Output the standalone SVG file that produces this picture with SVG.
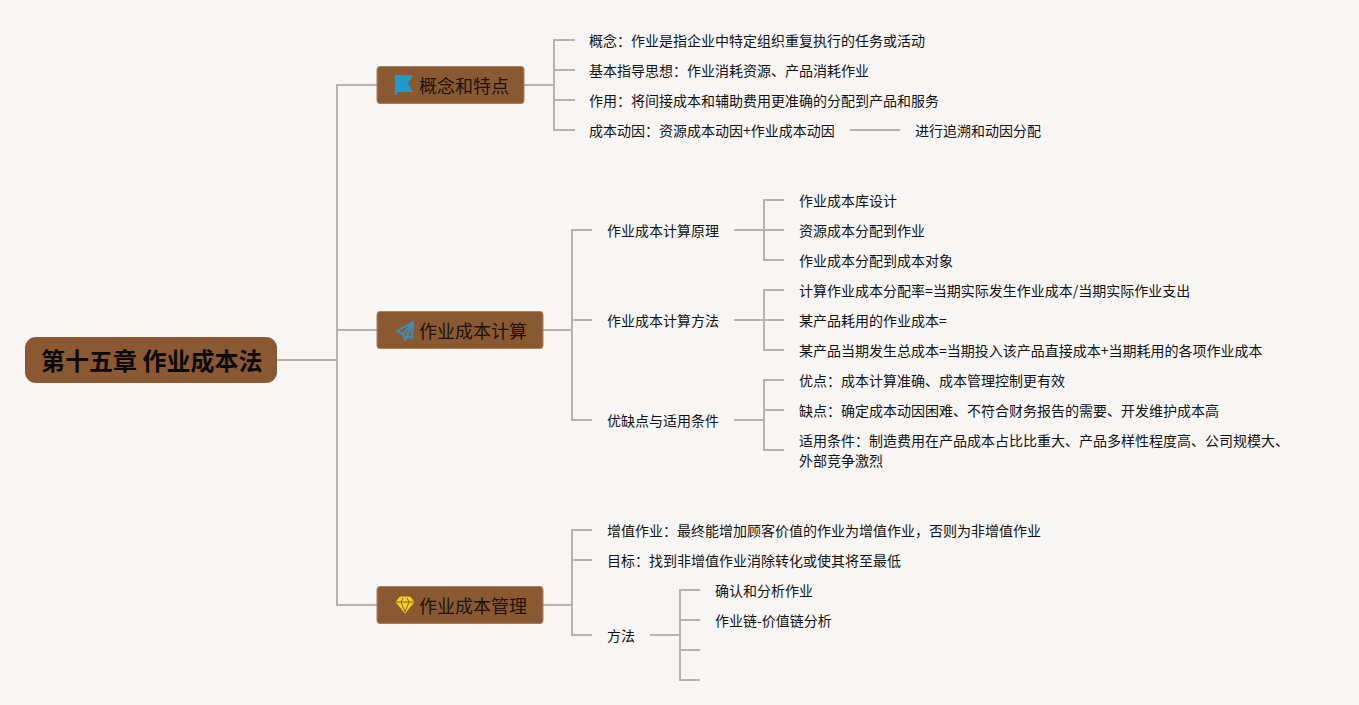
<svg xmlns="http://www.w3.org/2000/svg" width="1359" height="705" viewBox="0 0 1359 705">
<style>
text{font-family:"Noto Sans CJK SC","Noto Sans",sans-serif;fill:#111}
.t{font-size:14px}
.b{font-size:18px;fill:#1c120a}
.r{font-size:24px;font-weight:700;fill:#0a0a0a}
.box{fill:#8a5932;stroke:#a87f5f;stroke-width:1}
#connectors path{fill:none;stroke:#bab1ac;stroke-width:2}
</style>
<rect width="1359" height="705" fill="#f8f6f5"/>
<g id="connectors">
<path d="M277 360H337M377 85H337V605H377M337 330H377"/>
<path d="M524 85H554M575 40H554V130H575M554 70H575M554 100H575M850 130H900"/>
<path d="M543 330H572M592 230H572V420H592M572 320H592"/>
<path d="M734 230H764M784 200H764V260H784M764 230H784"/>
<path d="M734 320H764M784 290H764V350H784M764 320H784"/>
<path d="M734 420H764M784 380H764V450H784M764 410H784"/>
<path d="M543 605H572M592 530H572V635H592M572 560H592"/>
<path d="M650 635H680M700 590H680V680H700M680 620H700M680 650H700"/>
</g>
<g id="root"><rect x="25" y="337" width="252" height="46" rx="11" fill="#8a5932"/><text class="r" x="41" y="370">第十五章 作业成本法</text></g>
<g id="n1"><rect class="box" x="377" y="66.500" width="147" height="37" rx="3"/>
<path d="M395 75H413L408 83.500L413 92H397V95H395Z" fill="#1b9ad6"/>
<text class="b" x="419" y="93">概念和特点</text></g>
<g id="n2"><rect class="box" x="377" y="311.500" width="166" height="37" rx="3"/>
<path d="M413 322L397 331L403 334L405 340L408 336L412 338ZM403 334L413 322L405 340" fill="none" stroke="#3f8db5" stroke-width="2" stroke-linejoin="round"/>
<text class="b" x="419" y="338">作业成本计算</text></g>
<g id="n3"><rect class="box" x="377" y="586.500" width="166" height="37" rx="3"/>
<path d="M400 597H410L414 602L405 613L396 602Z" fill="#f2d21f" stroke="#f2d21f"/>
<path d="M396 602H414M401 602L405 612L409 602M403 598L401 602M407 598L409 602" fill="none" stroke="#8a5932"/>
<text class="b" x="419" y="613">作业成本管理</text></g>
<g id="a1"><text class="t" x="589" y="46">概念：作业是指企业中特定组织重复执行的任务或活动</text></g>
<g id="a2"><text class="t" x="589" y="76">基本指导思想：作业消耗资源、产品消耗作业</text></g>
<g id="a3"><text class="t" x="589" y="106">作用：将间接成本和辅助费用更准确的分配到产品和服务</text></g>
<g id="a4"><text class="t" x="589" y="136">成本动因：资源成本动因+作业成本动因</text></g>
<g id="a41"><text class="t" x="915" y="136">进行追溯和动因分配</text></g>
<g id="b1"><text class="t" x="607" y="236">作业成本计算原理</text></g>
<g id="b11"><text class="t" x="799" y="206">作业成本库设计</text></g>
<g id="b12"><text class="t" x="799" y="236">资源成本分配到作业</text></g>
<g id="b13"><text class="t" x="799" y="266">作业成本分配到成本对象</text></g>
<g id="b2"><text class="t" x="607" y="326">作业成本计算方法</text></g>
<g id="b21"><text class="t" x="799" y="296">计算作业成本分配率=当期实际发生作业成本/当期实际作业支出</text></g>
<g id="b22"><text class="t" x="799" y="326">某产品耗用的作业成本=</text></g>
<g id="b23"><text class="t" x="799" y="356">某产品当期发生总成本=当期投入该产品直接成本+当期耗用的各项作业成本</text></g>
<g id="b3"><text class="t" x="607" y="426">优缺点与适用条件</text></g>
<g id="b31"><text class="t" x="799" y="386">优点：成本计算准确、成本管理控制更有效</text></g>
<g id="b32"><text class="t" x="799" y="416">缺点：确定成本动因困难、不符合财务报告的需要、开发维护成本高</text></g>
<g id="b33"><text class="t" x="799" y="446">适用条件：制造费用在产品成本占比比重大、产品多样性程度高、公司规模大、</text><text class="t" x="799" y="466">外部竞争激烈</text></g>
<g id="c1"><text class="t" x="607" y="536">增值作业：最终能增加顾客价值的作业为增值作业，否则为非增值作业</text></g>
<g id="c2"><text class="t" x="607" y="566">目标：找到非增值作业消除转化或使其将至最低</text></g>
<g id="c3"><text class="t" x="607" y="641">方法</text></g>
<g id="c31"><text class="t" x="715" y="596">确认和分析作业</text></g>
<g id="c32"><text class="t" x="715" y="626">作业链-价值链分析</text></g>
</svg>
